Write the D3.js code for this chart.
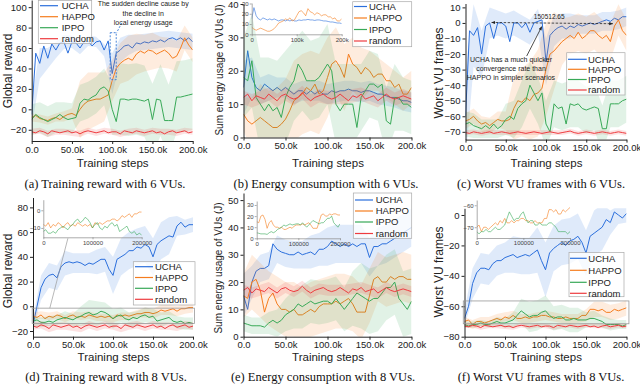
<!DOCTYPE html>
<html>
<head>
<meta charset="utf-8">
<script src="https://cdn.jsdelivr.net/npm/d3@7"></script>
<style>
body { margin: 0; background: #fff; }
svg { font-family: "Liberation Sans", Arial, sans-serif; }
</style>
</head>
<body>
<svg id="fig" width="640" height="389"></svg>
<script>
// x grid of the curves (every 5k steps) and of the shaded bands (every 10k steps)
const steps = d3.range(0, 200001, 5000);
const bandSteps = d3.range(0, 200001, 10000);
const names = ["UCHA", "HAPPO", "IPPO", "random"];

// (a) training reward, 6 VUs
const a_ucha = [-5,55,45,62,50,64,58,65,66,55,66,65,60,66,67,62,66,67,58,67,35,55,58,62,63,60,65,64,66,65,67,66,68,66,69,70,68,70,67,70,66];
const a_ucha_w = [12,15,10,8,7,6,6,5,5,6,20,12,10,8,8,8,8,8,8,8,8];
const a_happo = [-8,-6,-9,-10,-11,-9,-8,-10,-7,-5,-4,-6,0,5,8,9,10,10,12,14,28,40,45,48,50,48,54,57,55,58,57,54,56,58,55,50,52,60,70,63,58];
const a_happo_w = [4,4,4,4,5,5,28,28,26,24,20,20,22,20,18,18,15,15,15,12,12];
const a_ippo = [-10,-5,-8,-10,-12,-10,-8,-5,-8,-10,-9,-8,6,10,9,12,14,20,22,18,0,-12,10,10,9,10,10,9,8,10,-10,10,9,-11,-11,-11,12,12,13,14,15];
const a_ippo_w = [15,15,15,15,15,15,18,18,18,18,25,35,35,35,35,35,35,35,35,35,35];
const a_random = [-22,-23,-21,-22,-24,-21,-22,-23,-22,-21,-23,-22,-24,-22,-21,-22,-23,-22,-21,-23,-22,-22,-24,-21,-22,-23,-21,-22,-23,-22,-21,-23,-22,-24,-22,-21,-23,-22,-21,-23,-22];
const a_random_w = [3,3,3,3,3,3,3,3,3,3,3,3,3,3,3,3,3,3,3,3,3];

// (b) energy consumption, 6 VUs
const b_ucha = [15,26,18,15,14,16,15,14,15,14,15,14,13,14,14,13,14,13,14,13,13,14,13.5,14,14,14.5,14,14,13.5,14,14,13.5,13,13,12.5,12,12,11.5,11,11,10.5];
const b_ucha_w = [8,6,4,4,3,3,3,3,3,3,3,3,3,3,3,3,3,3,3,3,3];
const b_happo = [7,5,4,5,6,5,4,3,3,4,5.5,8,11,12,13,15,14,16,13,14,18,22,23,21,18,25,22,21,19,21,20,18,19,19,17,17,15,16,13,13,15];
const b_happo_w = [5,8,10,10,12,12,12,12,12,12,12,10,10,8,8,6,5,5,5,5,5];
const b_ippo = [18,17,23,12,10,8,10,8,9,6,12,15,17,22,20,17,17,17,18,20,22,20,10,8,10,10,10,3,12,14,16,16,15,16,5,4,12,12,10,10,9];
const b_ippo_w = [12,14,14,14,14,14,12,12,12,12,12,12,12,12,10,10,10,10,10,8,8];
const b_random = [12,13,11,12.5,12,11.5,13,12,11,12.5,13,12,11.5,12,13.5,12,11,12,12.5,13,12,11.5,12,13,12,11,12.5,12,13,11.5,12,12.5,11,12,13,12,11.5,12,12.5,12,11.5];
const b_random_w = [2,2,2,2,2,2,2,2,2,2,2,2,2,2,2,2,2,2,2,2,2];

// (c) worst VU frames, 6 VUs
const c_ucha = [-60,-5,-8,-3,-20,-2,0,-10,0,0,-2,-12,0,0,-3,0,-6,0,1,2,-25,-8,-5,-3,-2,-4,-2,-3,-1,-2,-1,0,-1,0,1,2,1,3,2,4,4];
const c_ucha_w = [30,20,15,10,8,8,8,8,8,8,15,10,8,8,6,6,6,6,6,6,6];
const c_happo = [-63,-62,-60,-63,-65,-64,-66,-64,-62,-63,-63,-62,-55,-50,-51,-48,-50,-46,-45,-42,-30,-20,-18,-15,-12,-10,-8,-10,-6,-10,-8,-5,-5,-8,-10,-8,-12,-2,2,-5,-8];
const c_happo_w = [5,5,5,5,5,6,20,22,25,28,30,25,15,12,12,12,12,12,12,10,10];
const c_ippo = [-65,-64,-66,-67,-68,-66,-68,-65,-68,-66,-62,-60,-62,-55,-52,-50,-40,-45,-50,-45,-65,-70,-52,-55,-54,-65,-52,-53,-52,-55,-56,-55,-54,-55,-68,-68,-52,-52,-52,-50,-49];
const c_ippo_w = [8,8,6,6,6,10,12,15,15,15,15,15,15,15,15,15,15,15,15,15,15];
const c_random = [-70.5,-71,-70,-70.5,-71,-70.5,-70,-71,-70.5,-70,-70.5,-71,-70.5,-70,-70.5,-71,-70.5,-70,-70.5,-71,-70.5,-70,-70.5,-71,-70.5,-70,-69.5,-70.5,-71,-70.5,-70,-70.5,-71,-70.5,-70,-70.5,-71,-70.5,-70,-70.5,-71];
const c_random_w = [1.5,1.5,1.5,1.5,1.5,1.5,1.5,1.5,1.5,1.5,1.5,1.5,1.5,1.5,1.5,1.5,1.5,1.5,1.5,1.5,1.5];

// (d) training reward, 8 VUs
const d_ucha = [-15,0,15,22,25,26,23,32,35,36,35,36,35,33,35,34,36,38,38,30,25,38,40,42,45,45,48,47,50,48,40,50,53,55,57,56,65,68,64,66,66];
const d_ucha_w = [5,10,10,10,10,8,8,8,10,10,15,15,15,15,15,15,15,15,8,6,6];
const d_happo = [-8,-9,-7,-10,-8,-9,-7,-8,-10,-8,-7,-9,-8,-9,-7,-8,-9,-8,-9,-8,-10,-7,-8,-7,-8,-7,-6,-6,-5,-5,-6,-5,-3,-4,-3,-2,-4,-2,-2,-1,-1];
const d_happo_w = [3,3,3,3,3,3,3,3,3,3,3,3,3,3,4,4,4,4,4,4,4];
const d_ippo = [-12,-11,-13,-13,-12,-13,-11,-10,-9,-10,-11,-9,-8,-6,-5,-7,-6,-4,-5,-7,-10,-8,-7,-10,-11,-9,-10,-8,-7,-9,-8,-12,-11,-10,-9,-12,-13,-12,-14,-13,-14];
const d_ippo_w = [4,4,4,4,5,5,8,10,10,8,8,6,6,6,6,6,6,5,5,5,5];
const d_random = [-16,-17,-15,-16,-18,-15,-16,-17,-16,-15,-17,-16,-18,-16,-15,-16,-17,-16,-15,-17,-16,-16,-18,-15,-16,-17,-15,-16,-17,-16,-15,-17,-16,-18,-16,-15,-17,-16,-15,-17,-16];
const d_random_w = [3,3,3,3,3,3,3,3,3,3,3,3,3,3,3,3,3,3,3,3,3];

// (e) energy consumption, 8 VUs
const e_ucha = [15,10,20,24,25,25,26,34,32,31,30.5,30,30,31,30,30.5,31,30,32,32,33,35,34,33,34,33,34,33,34,34,29,33,33,34,34,35,36,37,38,39,40];
const e_ucha_w = [8,6,5,5,5,5,5,5,6,6,7,7,7,7,7,7,7,7,7,7,7];
const e_happo = [15,14,20,21,17,9,14,16,12,10,10,9,10,8,8,9,10,9,11,12,12,12,13,12,13,14,12,9,9,9,15,21,22,20,20,22,21,22,22,21,21];
const e_happo_w = [8,10,10,10,10,10,10,10,10,10,10,10,10,10,10,10,9,9,9,9,9];
const e_ippo = [5,4.5,4,4,4,3.5,5,6,5,6,8,9,10,12,11,12,13,12,12.5,13,13,12,14,12,10,12,14,16,15,14,13,14,14,16,18,18,20,14,12,10,13];
const e_ippo_w = [3,3,3,4,5,6,7,8,8,8,8,8,8,10,12,12,12,12,12,12,12];
const e_random = [17,18,16,17.5,17,16.5,18,17,16,17.5,18,17,16.5,17,18.5,17,16,17,17.5,18,17,16.5,17,18,17,16,17.5,17,18,16.5,17,17.5,16,17,18,17,16.5,17,17.5,17,16.5];
const e_random_w = [2,2,2,2,2,2,2,2,2,2,2,2,2,2,2,2,2,2,2,2,2];

// (f) worst VU frames, 8 VUs
const f_ucha = [-68,-60,-45,-38,-35,-35,-36,-32,-30,-30,-28,-27,-26,-28,-27,-26,-27,-25,-23,-30,-36,-25,-22,-20,-18,-20,-17,-16,-14,-18,-25,-14,-12,-10,-8,-3,-5,2,0,-2,1];
const f_ucha_w = [5,10,10,10,10,10,12,12,12,15,18,15,15,15,15,15,15,15,8,6,6];
const f_happo = [-70,-69,-72,-70,-70,-71,-70,-69,-68,-69,-67,-68,-66,-68,-68,-67,-68,-67,-67,-66,-66,-67,-67,-68,-68,-67,-68,-68,-68,-66,-66,-62,-62,-63,-62,-64,-64,-62,-63,-62,-61];
const f_happo_w = [3,3,3,3,3,3,3,3,3,3,3,3,3,3,3,4,5,5,5,5,5];
const f_ippo = [-72,-73,-72,-72,-71,-72,-72,-71,-70,-71,-71,-70,-69,-66,-63,-65,-67,-66,-66,-64,-63,-66,-68,-67,-67,-69,-69,-68,-69,-69,-69,-68,-68,-69,-70,-72,-72,-72,-72,-73,-72];
const f_ippo_w = [2,2,2,2,3,3,5,8,10,10,10,8,8,8,8,5,5,4,4,3,3];
const f_random = [-73,-73.5,-72.5,-73,-74,-72.5,-73,-73.5,-73,-72.5,-73.5,-73,-74,-73,-72.5,-73,-73.5,-73,-72.5,-73.5,-73,-73,-74,-72.5,-73,-73.5,-72.5,-73,-73.5,-73,-72.5,-73.5,-73,-74,-73,-72.5,-73.5,-73,-72.5,-73.5,-73];
const f_random_w = [1.5,1.5,1.5,1.5,1.5,1.5,1.5,1.5,1.5,1.5,1.5,1.5,1.5,1.5,1.5,1.5,1.5,1.5,1.5,1.5,1.5];

const xTicks = [0, 50000, 100000, 150000, 200000];
const captions = ["(a) Training reward with 6 VUs.", "(b) Energy consumption with 6 VUs.", "(c) Worst VU frames with 6 VUs.",
                  "(d) Training reward with 8 VUs.", "(e) Energy consumption with 8 VUs.", "(f) Worst VU frames with 8 VUs."];

const color = {UCHA: "#2b6fdc", HAPPO: "#f57d1f", IPPO: "#38a957", random: "#ee3b3f"};

const svg = d3.select("#fig");
const defs = svg.append("defs");
defs.append("marker").attr("id", "arr").attr("viewBox", "0 0 10 10")
    .attr("refX", 9).attr("refY", 5).attr("markerWidth", 5).attr("markerHeight", 5)
    .attr("orient", "auto-start-reverse")
  .append("path").attr("d", "M0,1L10,5L0,9z").attr("fill", "#222");

const panels = [
  {id: "a", xr: [31.7, 192.7], yr: [141, 0], yd: [-31, 107], yt: d3.range(-20, 101, 20),
   series: [[a_ucha, a_ucha_w], [a_happo, a_happo_w], [a_ippo, a_ippo_w], [a_random, a_random_w]],
   ylab: "Global reward", ylx: 11.5, yly: 71, yls: 12, xly: 167,
   leg: {box: [38.3, 0.5, 53.4, 43], rows: [5.7, 16.7, 27.7, 38.7], line: [40, 58], tx: 61.7}},
  {id: "b", xr: [243.5, 411.5], yr: [137.5, 4], yd: [0, 40], yt: d3.range(0, 41, 10),
   series: [[b_ucha, b_ucha_w], [b_happo, b_happo_w], [b_ippo, b_ippo_w], [b_random, b_random_w]],
   ylab: "Sum energy usage of VUs (J)", ylx: 222.5, yly: 70, yls: 10, xly: 167,
   leg: {box: [352.7, 1.7, 59, 45], rows: [6.5, 18, 29.5, 41], line: [354, 367], tx: 369},
   inset: {xr: [251.7, 341.7], yr: [34.3, 3], yd: [0, 30.5], yt: [0, 10, 20, 30], keys: [0, 1],
           xl: ["0", "100k", "200k"]}},
  {id: "c", xr: [465.5, 626.5], yr: [139.6, 3.5], yd: [-75, 12.5], yt: d3.range(-70, 11, 10),
   series: [[c_ucha, c_ucha_w], [c_happo, c_happo_w], [c_ippo, c_ippo_w], [c_random, c_random_w]],
   ylab: "Worst VU frames", ylx: 442.5, yly: 73, yls: 12, xly: 167,
   leg: {box: [566.7, 52.7, 58.3, 42.3], rows: [59.3, 69.3, 79.5, 90], line: [568, 586.7], tx: 588}},
  {id: "d", xr: [33, 193], yr: [336.7, 197.5], yd: [-24.6, 88], yt: d3.range(-20, 81, 20),
   series: [[d_ucha, d_ucha_w], [d_happo, d_happo_w], [d_ippo, d_ippo_w], [d_random, d_random_w]],
   ylab: "Global reward", ylx: 11.5, yly: 271, yls: 12, xly: 361,
   leg: {box: [133.3, 261.7, 61.7, 43.3], rows: [266.7, 277.5, 288.3, 299.3], line: [135, 153], tx: 155},
   inset: {xr: [43.3, 141.7], yr: [237.3, 199.7], yd: [-15.3, 6], yt: [0, -10], keys: [1, 2],
           xl: ["0", "100000", "200000"]},
   zoomBox: {x: [-1000, 202000], y: [-14, -1.5], from: 50000, to: 21000}},
  {id: "e", xr: [243.5, 411.5], yr: [336.7, 193], yd: [0, 52.6], yt: d3.range(0, 51, 10),
   series: [[e_ucha, e_ucha_w], [e_happo, e_happo_w], [e_ippo, e_ippo_w], [e_random, e_random_w]],
   ylab: "Sum energy usage of VUs (J)", ylx: 221.5, yly: 268, yls: 10, xly: 361,
   leg: {box: [353.3, 193, 58.4, 45.3], rows: [200, 211, 222, 233.5], line: [355, 373], tx: 375.7},
   inset: {xr: [256.7, 340], yr: [238.3, 201], yd: [0, 33.6], yt: [0, 10, 20, 30], keys: [1, 2],
           xl: ["0", "100000", "200000"]}},
  {id: "f", xr: [464.5, 626.5], yr: [336.7, 208.3], yd: [-80, 4.4], yt: d3.range(-80, 1, 20),
   series: [[f_ucha, f_ucha_w], [f_happo, f_happo_w], [f_ippo, f_ippo_w], [f_random, f_random_w]],
   ylab: "Worst VU frames", ylx: 442.5, yly: 272, yls: 12, xly: 361,
   leg: {box: [569, 252.5, 55, 44.2], rows: [258.3, 270.3, 282.3, 293.3], line: [570, 586.7], tx: 588.3},
   inset: {xr: [476.7, 570], yr: [238, 200], yd: [-74.9, -57.6], yt: [-60, -70], keys: [1, 2],
           xl: ["0", "100000", "200000"]},
   zoomBox: {x: [-1500, 203000], y: [-71.5, -56.5]}}
];

function fmtK(d) { return d === 0 ? "0.0" : (d / 1000).toFixed(1) + "k"; }

panels.forEach(function(p) {
  const x = d3.scaleLinear().domain([0, 200000]).range(p.xr);
  const y = d3.scaleLinear().domain(p.yd).range(p.yr);
  p.x = x; p.y = y;

  defs.append("clipPath").attr("id", "clip-" + p.id)
    .append("rect").attr("x", p.xr[0]).attr("y", p.yr[1])
    .attr("width", p.xr[1] - p.xr[0]).attr("height", p.yr[0] - p.yr[1]);

  const g = svg.append("g");
  const plot = g.append("g").attr("clip-path", "url(#clip-" + p.id + ")");

  p.series.forEach(function(s, k) {
    const vals = s[0], w = s[1], c = color[names[k]];
    const band = d3.area()
      .x((d, i) => x(bandSteps[i]))
      .y0((d, i) => y(vals[i * 2] - d))
      .y1((d, i) => y(vals[i * 2] + d));
    plot.append("path").attr("d", band(w)).attr("fill", c).attr("fill-opacity", 0.15);
    const line = d3.line().x((d, i) => x(steps[i])).y(d => y(d));
    plot.append("path").attr("d", line(vals)).attr("fill", "none")
      .attr("stroke", c).attr("stroke-width", 1).attr("stroke-linejoin", "round");
  });

  // axes
  const ax = g.append("g").attr("transform", "translate(0," + p.yr[0] + ")")
    .call(d3.axisBottom(x).tickValues(xTicks).tickFormat(fmtK).tickSize(3).tickSizeOuter(0).tickPadding(2));
  const ay = g.append("g").attr("transform", "translate(" + p.xr[0] + ",0)")
    .call(d3.axisLeft(y).tickValues(p.yt).tickSize(3).tickSizeOuter(0).tickPadding(2));
  [ax, ay].forEach(a => {
    a.attr("font-family", null).attr("font-size", null);
    a.selectAll("path,line").attr("stroke", "#222");
    a.selectAll("text").attr("font-size", 9.5).attr("fill", "#222");
  });

  g.append("text").attr("x", (p.xr[0] + p.xr[1]) / 2 + 0.5).attr("y", p.xly)
    .attr("text-anchor", "middle").attr("font-size", 11.5).attr("fill", "#222").text("Training steps");
  g.append("text").attr("transform", "translate(" + p.ylx + "," + p.yly + ") rotate(-90)")
    .attr("text-anchor", "middle").attr("font-size", p.yls).attr("fill", "#222").text(p.ylab);

  // inset
  if (p.inset) {
    const ins = p.inset;
    const ix = d3.scaleLinear().domain([0, 200000]).range(ins.xr);
    const iy = d3.scaleLinear().domain(ins.yd).range(ins.yr);
    defs.append("clipPath").attr("id", "iclip-" + p.id)
      .append("rect").attr("x", ins.xr[0]).attr("y", ins.yr[1])
      .attr("width", ins.xr[1] - ins.xr[0]).attr("height", ins.yr[0] - ins.yr[1]);
    const ig = g.append("g");
    const il = ig.append("g").attr("clip-path", "url(#iclip-" + p.id + ")");
    ins.keys.forEach(function(k) {
      const line = d3.line().x((d, i) => ix(steps[i])).y(d => iy(d));
      il.append("path").attr("d", line(p.series[k][0])).attr("fill", "none")
        .attr("stroke", color[names[k]]).attr("stroke-width", 0.8).attr("stroke-opacity", 0.75);
    });
    const iax = ig.append("g").attr("transform", "translate(0," + ins.yr[0] + ")")
      .call(d3.axisBottom(ix).tickValues([0, 100000, 200000]).tickFormat((d, i) => ins.xl[i])
        .tickSize(2).tickSizeOuter(0).tickPadding(1));
    const iay = ig.append("g").attr("transform", "translate(" + ins.xr[0] + ",0)")
      .call(d3.axisLeft(iy).tickValues(ins.yt).tickSize(2).tickSizeOuter(0).tickPadding(1));
    [iax, iay].forEach(a => {
      a.attr("font-family", null).attr("font-size", null);
      a.selectAll("path,line").attr("stroke", "#888").attr("stroke-width", 0.7);
      a.selectAll("text").attr("font-size", 6).attr("fill", "#444");
    });
  }

  if (p.zoomBox) {
    const z = p.zoomBox;
    g.append("rect").attr("x", x(z.x[0])).attr("y", y(z.y[1]))
      .attr("width", x(z.x[1]) - x(z.x[0])).attr("height", y(z.y[0]) - y(z.y[1]))
      .attr("fill", "none").attr("stroke", "#999").attr("stroke-width", 0.8);
    if (z.from !== undefined) {
      const ix = d3.scaleLinear().domain([0, 200000]).range(p.inset.xr);
      g.append("line").attr("x1", ix(z.from)).attr("y1", p.inset.yr[0] + 1)
        .attr("x2", x(z.to)).attr("y2", y(z.y[1]))
        .attr("stroke", "#999").attr("stroke-width", 0.7);
    }
  }

  // legend
  const L = p.leg;
  const lg = g.append("g");
  lg.append("rect").attr("x", L.box[0]).attr("y", L.box[1]).attr("width", L.box[2]).attr("height", L.box[3])
    .attr("fill", "#fff").attr("fill-opacity", 0.75).attr("stroke", "#aaa").attr("stroke-width", 0.7);
  names.forEach(function(n, k) {
    lg.append("line").attr("x1", L.line[0]).attr("x2", L.line[1]).attr("y1", L.rows[k]).attr("y2", L.rows[k])
      .attr("stroke", color[n]).attr("stroke-width", 1.2);
    lg.append("text").attr("x", L.tx).attr("y", L.rows[k]).attr("dy", "0.35em")
      .attr("font-size", 9.5).attr("fill", "#222").text(n);
  });
});

// annotation in (a)
(function() {
  const p = panels[0], x = p.x, y = p.y;
  const g = svg.append("g");
  g.append("rect").attr("x", x(97500)).attr("y", y(75)).attr("width", x(105000) - x(97500))
    .attr("height", y(29) - y(75)).attr("fill", "none").attr("stroke", "#3a7bd5")
    .attr("stroke-width", 0.9).attr("stroke-dasharray", "2,1.5");
  g.append("line").attr("x1", x(111800)).attr("y1", y(84.5)).attr("x2", x(105500)).attr("y2", y(75))
    .attr("stroke", "#3a7bd5").attr("stroke-width", 0.9).attr("stroke-dasharray", "2,1.5");
  ["The sudden decline cause by", "the decline in", "local energy usage"].forEach(function(t, i) {
    g.append("text").attr("x", x(138500)).attr("y", y([100.8, 91.6, 82.6][i]))
      .attr("text-anchor", "middle").attr("font-size", 7).attr("fill", "#222").text(t);
  });
})();

// annotation in (c)
(function() {
  const p = panels[2], x = p.x, y = p.y;
  const g = svg.append("g");
  g.append("line").attr("x1", x(32500)).attr("y1", y(0.3)).attr("x2", x(183000)).attr("y2", y(-0.5))
    .attr("stroke", "#222").attr("stroke-width", 0.8).attr("stroke-dasharray", "2.5,1.5")
    .attr("marker-start", "url(#arr)").attr("marker-end", "url(#arr)");
  g.append("line").attr("x1", x(76000)).attr("y1", y(-21.3)).attr("x2", x(94700)).attr("y2", y(-2.4))
    .attr("stroke", "#222").attr("stroke-width", 0.8).attr("marker-end", "url(#arr)");
  g.append("text").attr("x", x(104000)).attr("y", y(2.5)).attr("text-anchor", "middle")
    .attr("font-size", 6.5).attr("fill", "#222").text("150512.65");
  ["UCHA has a much quicker", "convergence rate than", "HAPPO in simpler scenarios"].forEach(function(t, i) {
    g.append("text").attr("x", x(56500)).attr("y", y([-25.4, -30.9, -36.4][i]))
      .attr("text-anchor", "middle").attr("font-size", 7).attr("fill", "#222").text(t);
  });
})();

// sub-figure captions
const capX = [105, 326, 541, 106, 323, 541];
const capY = [188, 188, 188, 381, 381, 381];
captions.forEach(function(c, i) {
  svg.append("text").attr("x", capX[i]).attr("y", capY[i]).attr("text-anchor", "middle")
    .style("font-family", "'Liberation Serif', 'Times New Roman', serif").attr("font-size", 12.5)
    .attr("fill", "#111").text(c);
});
</script>
</body>
</html>
